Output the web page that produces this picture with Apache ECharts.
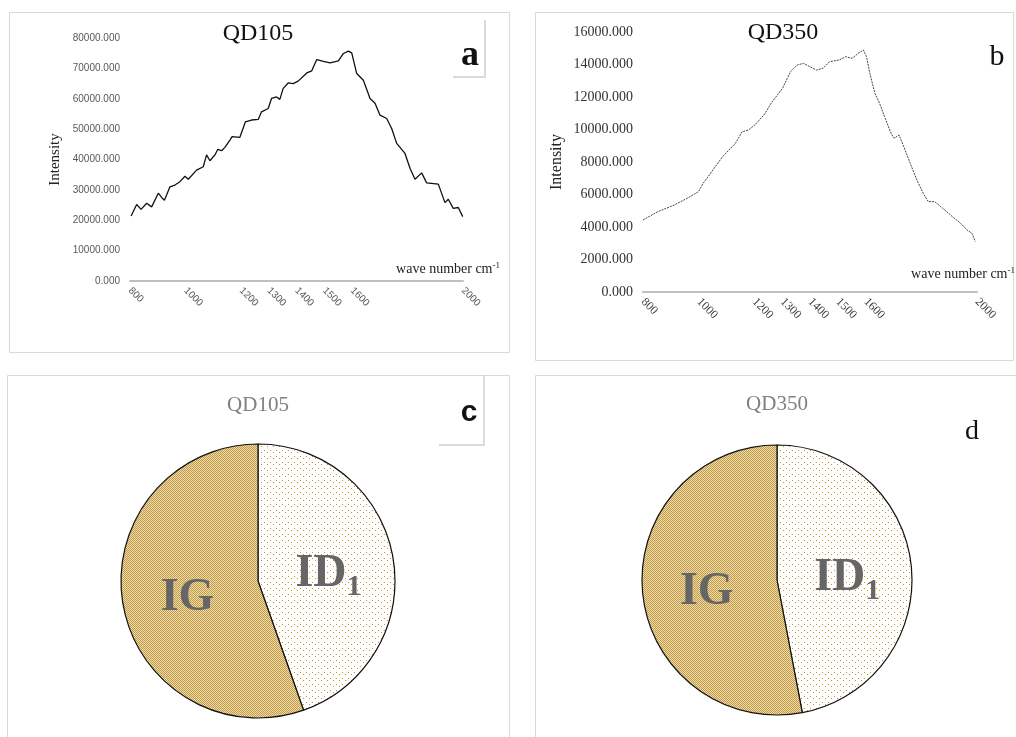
<!DOCTYPE html>
<html><head><meta charset="utf-8">
<script src="https://cdn.jsdelivr.net/npm/echarts@6/dist/echarts.min.js"></script>
<style>html,body{margin:0;padding:0;background:#fff}#c{width:1016px;height:737px}</style>
</head><body><div id="c"></div><script>
// ---- data ----
const xTickValues = [800, 1000, 1200, 1300, 1400, 1500, 1600, 2000];
const waveA = [804,824,840,860,878,902,914,924,944,962,980,998,1010,1040,1064,1076,1088,1106,1116,1130,1142,1160,1168,1196,1216,1238,1262,1274,1298,1310,1328,1340,1352,1370,1388,1406,1437,1455,1473,1497,1521,1551,1569,1587,1599,1617,1641,1665,1683,1701,1725,1743,1761,1791,1809,1827,1851,1869,1911,1935,1947,1965,1983,1999];
const intensA = [21400,25200,23600,25600,24400,28900,27500,26600,31000,31600,32700,34500,33500,36500,37600,41500,39600,41500,43300,42900,44000,46400,47500,47300,52400,53000,53200,55700,56800,60100,60600,59800,63400,65200,65000,65800,68500,69200,72900,72300,71800,72500,74900,75700,75100,68300,66100,60100,58500,54600,53500,50200,45300,42000,37100,33500,35600,32300,31900,25800,26900,23900,24200,21200];
const waveB = [800,853,912,958,999,1016,1034,1086,1132,1156,1179,1202,1237,1260,1301,1330,1354,1377,1400,1423,1447,1470,1505,1528,1551,1574,1592,1603,1615,1633,1650,1668,1691,1702,1720,1737,1760,1784,1807,1825,1848,1877,1912,1941,1964,1982,1994];
const intensB = [4430,4940,5350,5760,6170,6690,7100,8330,9150,9860,9970,10280,10950,11610,12530,13560,13970,14070,13860,13660,13770,14170,14280,14480,14380,14690,14890,14480,13460,12230,11610,10790,9770,9460,9660,8940,7920,6890,6070,5560,5560,5150,4630,4230,3820,3610,3100];
const pieNames = ['ID1', 'IG'];
const pieC = [44.6, 55.4];
const pieD = [47.0, 53.0];

// ---- styles ----
function pattern(cells, size, dot, bg) {
  const c = document.createElement('canvas'); c.width = size; c.height = size;
  const g = c.getContext('2d'); g.fillStyle = bg; g.fillRect(0, 0, size, size);
  g.fillStyle = dot; cells.forEach(p => g.fillRect(p[0], p[1], 1, 1));
  return c;
}
const igCanvas = pattern([[0,0],[2,0],[1,1],[3,1],[0,2],[2,2],[1,3],[3,3]], 4, '#c49a40', '#ecdcb4');
const idCanvas = pattern([[0,0],[3,2]], 6, '#c8961e', '#ffffff');
const fills = { IG: { image: igCanvas, repeat: 'repeat' }, ID1: { image: idCanvas, repeat: 'repeat' } };

function zip(a, b) { return a.map((v, i) => [v, b[i]]); }

function xAx(gi, font, size, color, gap, pad) {
  return {
    type: 'value', gridIndex: gi, min: 800, max: 2000,
    axisLine: { show: true, lineStyle: { color: '#c0c0c0', width: 2 } },
    axisTick: { show: false }, splitLine: { show: false },
    axisLabel: { customValues: xTickValues, formatter: v => String(v), rotate: -45, margin: 8, fontFamily: font, fontSize: size, color: color },
    name: 'wave number cm{sup|-1}', nameLocation: 'end', nameGap: gap,
    nameTextStyle: { fontFamily: 'Liberation Serif', fontSize: 14, color: '#222', align: 'right', verticalAlign: 'bottom', padding: [0, 0, pad, 0],
      rich: { sup: { fontFamily: 'Liberation Serif', fontSize: 9, color: '#222', verticalAlign: 'top', padding: [0, 0, 8, 0] } } }
  };
}
function yAx(gi, max, interval, font, size, color, gap, nfs) {
  return {
    type: 'value', gridIndex: gi, min: 0, max: max, interval: interval,
    axisLine: { show: false }, axisTick: { show: false }, splitLine: { show: false },
    axisLabel: { formatter: v => v.toFixed(3), fontFamily: font, fontSize: size, color: color, margin: 10 },
    name: 'Intensity', nameLocation: 'middle', nameGap: gap,
    nameTextStyle: { fontFamily: 'Liberation Serif', fontSize: nfs, color: '#222' }
  };
}
function pieSeries(values, center, r) {
  return {
    type: 'pie', center: center, radius: r, startAngle: 90, clockwise: true, silent: true,
    data: pieNames.map((n, i) => ({ name: n, value: values[i], itemStyle: { color: fills[n] } })),
    itemStyle: { borderColor: '#111', borderWidth: 1.2 },
    label: {
      show: true, position: 'inside',
      formatter: p => p.name === 'ID1' ? '{m|ID}{s|1}' : '{m|IG}',
      rich: {
        m: { fontFamily: 'Liberation Serif', fontWeight: 'bold', fontSize: 46, color: '#666666', lineHeight: 50, padding: [10, 0, 0, 0] },
        s: { fontFamily: 'Liberation Serif', fontWeight: 'bold', fontSize: 30, color: '#666666', verticalAlign: 'bottom', padding: [0, 0, -8, 0] }
      }
    },
    labelLine: { show: false }, emphasis: { disabled: true }
  };
}

const chart = echarts.init(document.getElementById('c'));
chart.setOption({
  backgroundColor: '#ffffff',
  animation: false,
  title: [
    { text: 'QD105', left: 258, top: 22, textAlign: 'center', padding: 0, textStyle: { fontFamily: 'Liberation Serif', fontWeight: 'normal', fontSize: 24, color: '#111' } },
    { text: 'QD350', left: 783, top: 21, textAlign: 'center', padding: 0, textStyle: { fontFamily: 'Liberation Serif', fontWeight: 'normal', fontSize: 24, color: '#111' } },
    { text: 'QD105', left: 258, top: 395, textAlign: 'center', padding: 0, textStyle: { fontFamily: 'Liberation Serif', fontWeight: 'normal', fontSize: 21, color: '#808080' } },
    { text: 'QD350', left: 777, top: 394, textAlign: 'center', padding: 0, textStyle: { fontFamily: 'Liberation Serif', fontWeight: 'normal', fontSize: 21, color: '#808080' } }
  ],
  grid: [
    { left: 130, right: 553, top: 38, bottom: 456 },
    { left: 643, right: 29, top: 32, bottom: 445 }
  ],
  xAxis: [
    xAx(0, 'Liberation Sans', 10, '#595959', 37, 3),
    xAx(1, 'Liberation Serif', 12, '#404040', 38, 9)
  ],
  yAxis: [
    yAx(0, 80000, 10000, 'Liberation Sans', 10, '#595959', 67, 15),
    yAx(1, 16000, 2000, 'Liberation Serif', 14, '#333333', 78, 16)
  ],
  series: [
    { type: 'line', xAxisIndex: 0, yAxisIndex: 0, data: zip(waveA, intensA), showSymbol: false, lineStyle: { color: '#111', width: 1.3 } },
    { type: 'line', xAxisIndex: 1, yAxisIndex: 1, data: zip(waveB, intensB), showSymbol: false, lineStyle: { color: '#444', width: 1, type: [2, 1] } },
    pieSeries(pieC, [258, 581], 137),
    pieSeries(pieD, [777, 580], 135)
  ],
  graphic: [
    { type: 'rect', shape: { x: 9.5, y: 12.5, width: 500, height: 340 }, style: { fill: 'none', stroke: '#d9d9d9', lineWidth: 1 }, silent: true },
    { type: 'rect', shape: { x: 535.5, y: 12.5, width: 478, height: 348 }, style: { fill: 'none', stroke: '#d9d9d9', lineWidth: 1 }, silent: true },
    { type: 'rect', shape: { x: 7.5, y: 375.5, width: 502, height: 380 }, style: { fill: 'none', stroke: '#d9d9d9', lineWidth: 1 }, silent: true },
    { type: 'rect', shape: { x: 535.5, y: 375.5, width: 500, height: 380 }, style: { fill: 'none', stroke: '#d9d9d9', lineWidth: 1 }, silent: true },
    { type: 'polyline', shape: { points: [[485, 20], [485, 77], [453, 77]] }, style: { fill: 'none', stroke: '#cfcfcf', lineWidth: 1.5 }, silent: true },
    { type: 'polyline', shape: { points: [[484, 375], [484, 445], [439, 445]] }, style: { fill: 'none', stroke: '#cfcfcf', lineWidth: 1.5 }, silent: true },
    { type: 'text', x: 470, y: 56, style: { text: 'a', fontFamily: 'Liberation Serif', fontWeight: 'bold', fontSize: 36, fill: '#111', align: 'center', verticalAlign: 'middle' }, silent: true },
    { type: 'text', x: 997, y: 57, style: { text: 'b', fontFamily: 'Liberation Serif', fontSize: 30, fill: '#111', align: 'center', verticalAlign: 'middle' }, silent: true },
    { type: 'text', x: 469, y: 413, style: { text: 'c', fontFamily: 'Liberation Sans', fontWeight: 'bold', fontSize: 30, fill: '#111', align: 'center', verticalAlign: 'middle' }, silent: true },
    { type: 'text', x: 972, y: 432, style: { text: 'd', fontFamily: 'Liberation Serif', fontSize: 28, fill: '#111', align: 'center', verticalAlign: 'middle' }, silent: true }
  ]
});
</script></body></html>
